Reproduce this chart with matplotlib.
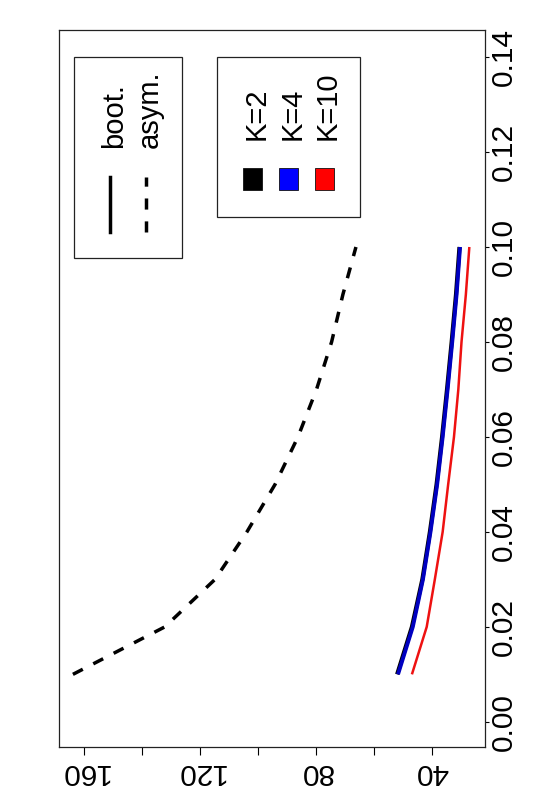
import matplotlib
matplotlib.use("Agg")
import matplotlib.pyplot as plt
from matplotlib.patches import Rectangle
from matplotlib.lines import Line2D

plt.rcParams['font.family'] = ['Liberation Sans', 'DejaVu Sans']

# data
alpha = [0.01, 0.02, 0.03, 0.04, 0.05, 0.06, 0.07, 0.08, 0.09, 0.10]
boot_k2 = [52.0, 46.9, 43.3, 40.7, 38.4, 36.5, 34.8, 33.2, 31.7, 30.5]
boot_k4 = [51.7, 46.6, 43.1, 40.5, 38.2, 36.3, 34.6, 33.0, 31.5, 30.3]
boot_k10 = [46.9, 41.8, 39.0, 36.3, 34.4, 32.4, 30.9, 29.8, 28.3, 27.1]
asym = [163.8, 132.1, 114.8, 103.8, 94.1, 86.2, 79.8, 74.6, 70.7, 66.2]
val_ticks = [40, 60, 80, 100, 120, 140, 160]
val_labels = ['40', '', '80', '', '120', '', '160']
alpha_ticks = [0.00, 0.02, 0.04, 0.06, 0.08, 0.10, 0.12, 0.14]
alpha_labels = ['0.00', '0.02', '0.04', '0.06', '0.08', '0.10', '0.12', '0.14']
legend1_labels = ['boot.', 'asym.']
legend2_labels = ['K=2', 'K=4', 'K=10']
legend2_colors = ['black', 'blue', 'red']

W, H = 559, 806
fig = plt.figure(figsize=(W / 100, H / 100), dpi=100)

def fx(x):
    return x / W

def fy(y):
    return 1 - y / H

ax = fig.add_axes([fx(59), fy(747), fx(485) - fx(59), fy(30) - fy(747)])
ax.plot(asym, alpha, color='black', lw=2.5, linestyle=(0, (3.2, 3.4)))
ax.plot(boot_k2, alpha, color='black', lw=3.0, solid_capstyle='butt')
ax.plot(boot_k4, alpha, color='#0000c0', lw=2.8, solid_capstyle='butt')
ax.plot(boot_k10, alpha, color='#ee1111', lw=1.8, solid_capstyle='butt')

ax.set_xlim(168.6, 21.7)
ax.set_ylim(-0.0053, 0.1457)

ax.set_xticks(val_ticks)
ax.set_xticklabels(val_labels, rotation=180, fontsize=21.5)
ax.yaxis.tick_right()
ax.set_yticks(alpha_ticks)
ax.set_yticklabels(alpha_labels, rotation=90, fontsize=21.5, va='center')
ax.tick_params(axis='x', direction='out', length=5.5, width=0.8, pad=2.7, colors='black')
ax.tick_params(axis='y', direction='out', length=3.2, width=0.8, pad=0, colors='black')
for s in ax.spines.values():
    s.set_linewidth(0.9)
    s.set_color('#222222')

# legend 1 (line styles)
fig.patches.append(Rectangle((fx(74), fy(258)), fx(182) - fx(74), fy(57) - fy(258),
                             transform=fig.transFigure, fill=False, ec='#222222', lw=0.9))
fig.lines.append(Line2D([fx(110), fx(110)], [fy(232), fy(177)], transform=fig.transFigure,
                        color='black', lw=2.5))
fig.lines.append(Line2D([fx(146), fx(146)], [fy(232), fy(177)], transform=fig.transFigure,
                        color='black', lw=2.5, linestyle=(0, (3.2, 3.4))))
fig.text(fx(114), fy(148), legend1_labels[0], rotation=90, ha='center', va='bottom', fontsize=21)
fig.text(fx(150), fy(148), legend1_labels[1], rotation=90, ha='center', va='bottom', fontsize=21)

# legend 2 (colours)
fig.patches.append(Rectangle((fx(217), fy(217)), fx(360) - fx(217), fy(57) - fy(217),
                             transform=fig.transFigure, fill=False, ec='#222222', lw=0.9))
sq_x = [243, 279, 315]
txt_x = [257, 292.5, 328]
for lab, col, sx, tx in zip(legend2_labels, legend2_colors, sq_x, txt_x):
    fig.patches.append(Rectangle((fx(sx), fy(190)), fx(19), fy(168) - fy(190),
                                 transform=fig.transFigure, fc=col, ec='#111111', lw=0.6))
    fig.text(fx(tx), fy(140), lab, rotation=90, ha='center', va='bottom', fontsize=21)

fig.savefig('out.png', dpi=100)
